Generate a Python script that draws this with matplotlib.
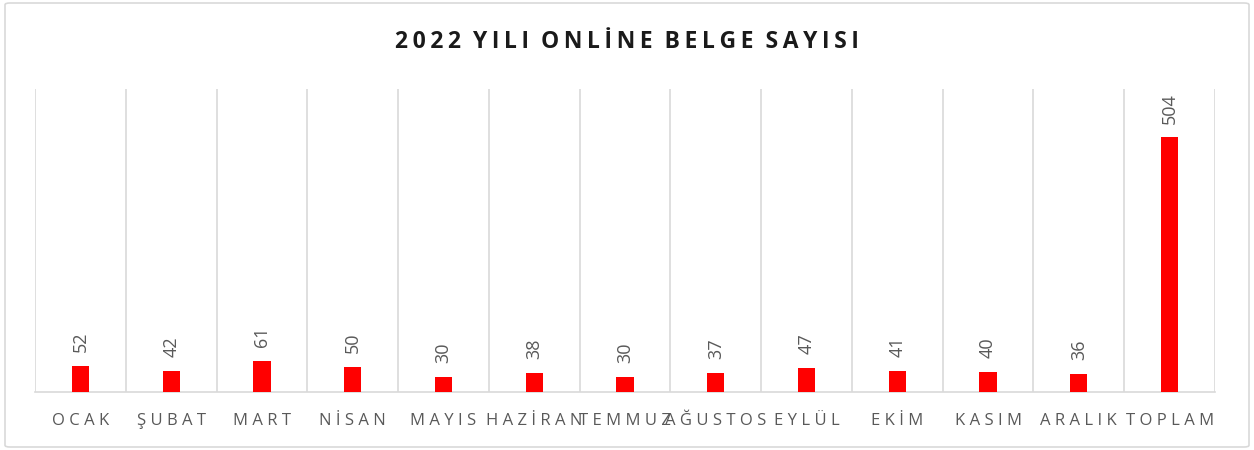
import matplotlib
matplotlib.use("Agg")
import matplotlib.pyplot as plt
from matplotlib.patches import FancyBboxPatch

categories = ["OCAK", "ŞUBAT", "MART", "NİSAN", "MAYIS", "HAZİRAN", "TEMMUZ",
              "AĞUSTOS", "EYLÜL", "EKİM", "KASIM", "ARALIK", "TOPLAM"]
values = [52, 42, 61, 50, 30, 38, 30, 37, 47, 41, 40, 36, 504]
title = "2022 YILI ONLİNE BELGE SAYISI"

plt.rcParams['font.family'] = ['Open Sans', 'DejaVu Sans']

fig = plt.figure(figsize=(12.54, 4.5), dpi=100)
border = FancyBboxPatch((5/1254, 3/450), 1244/1254, 444/450,
                        boxstyle="round,pad=0,rounding_size=0.004",
                        transform=fig.transFigure, fill=False,
                        edgecolor="#d9d9d9", linewidth=1.2)
fig.patches.append(border)

ax = fig.add_axes([35/1254, (450-392)/450, (1215-35)/1254, (392-89)/450])
n = len(categories)
x = list(range(n))
ax.bar(x, values, width=0.19, color="#ff0000", zorder=3)
ax.set_xlim(-0.5, n - 0.5)
ax.set_ylim(0, 600)
for b in range(n + 1):
    ax.axvline(b - 0.5, color="#d9d9d9", linewidth=1.2, zorder=1)
for s in ["top", "right", "left"]:
    ax.spines[s].set_visible(False)
ax.spines["bottom"].set_color("#d9d9d9")
ax.spines["bottom"].set_linewidth(1.2)
ax.set_yticks([])
ax.set_xticks(x)
ax.set_xticklabels([" ".join(c) for c in categories], color="#595959", fontsize=12)
ax.tick_params(axis="x", length=0, pad=15)

for xi, v in zip(x, values):
    ax.annotate(str(v), (xi, v), xytext=(0, 10), textcoords="offset points",
                rotation=90, ha="center", va="bottom", color="#595959", fontsize=13)

fig.text(0.5, (450-42)/450, "\u2009".join(title).replace("\u2009 \u2009", "  "),
         ha="center", va="center", fontsize=16.5, fontweight="bold", color="#1a1a1a")

fig.savefig("out.png", dpi=100)
